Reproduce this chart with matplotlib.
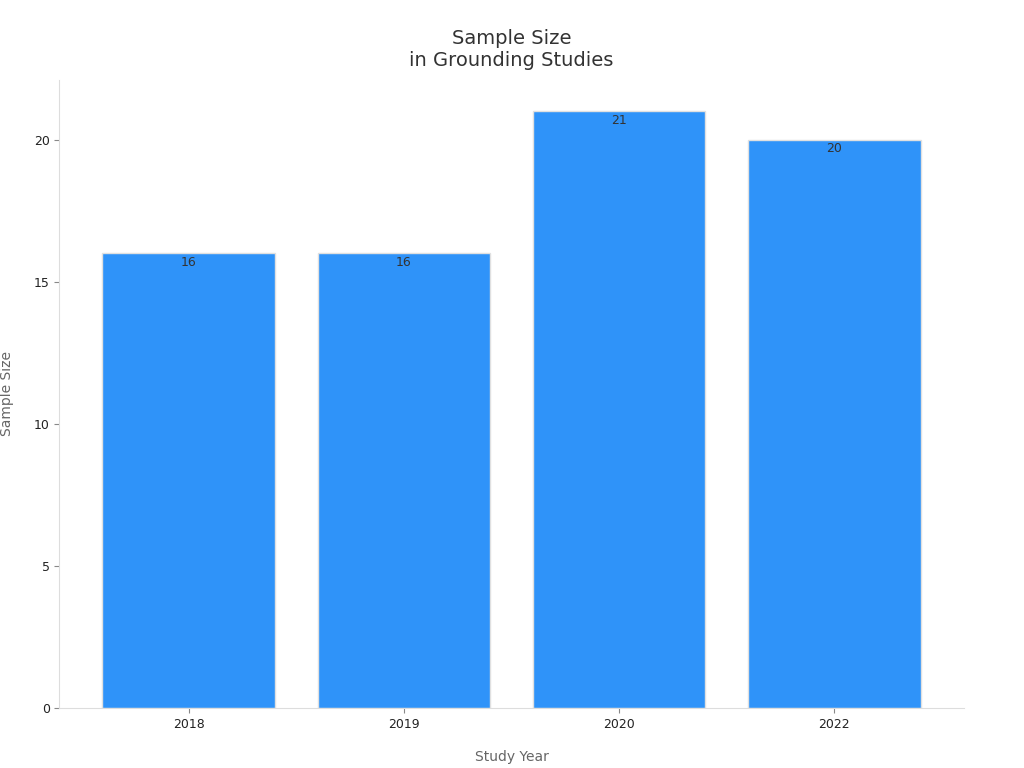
import matplotlib.pyplot as plt

years = ['2018', '2019', '2020', '2022']
sizes = [16, 16, 21, 20]

fig = plt.figure(figsize=(10.24, 7.68), dpi=100)
ax = fig.add_axes([0.058, 0.078, 0.883, 0.818])

bars = ax.bar(years, sizes, width=0.8, color='#2f93f9', edgecolor='#e0e0e0', linewidth=1)
for b, v in zip(bars, sizes):
    ax.text(b.get_x() + b.get_width() / 2, v - 0.1, str(v), ha='center', va='top',
            fontsize=9, color='#333333')

ax.set_xlim(-0.6, 3.6)
ax.set_ylim(0, 22.1)
ax.set_yticks([0, 5, 10, 15, 20])
ax.tick_params(labelsize=9, colors='#888888', labelcolor='#222222')
for s in ['top', 'right']:
    ax.spines[s].set_visible(False)
for s in ['left', 'bottom']:
    ax.spines[s].set_color('#dddddd')

ax.set_xlabel('Study Year', fontsize=10, color='#666666', labelpad=14)
ax.set_ylabel('Sample Size', fontsize=10, color='#666666', labelpad=14)
ax.set_title('Sample Size\nin Grounding Studies', fontsize=14, color='#333333', pad=10)

fig.savefig('out.png', dpi=100)
